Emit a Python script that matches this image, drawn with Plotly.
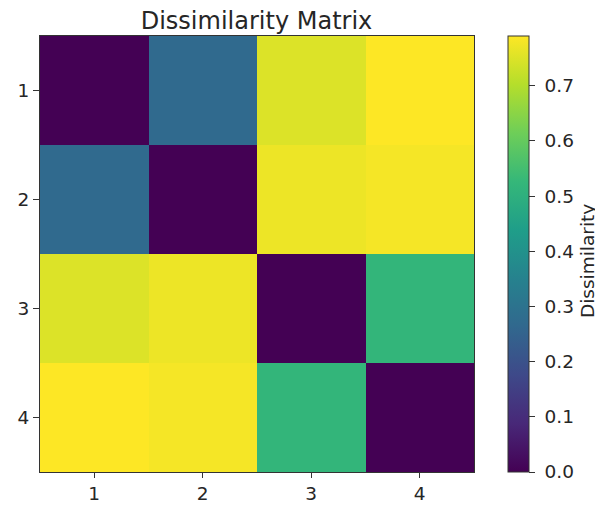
import plotly.graph_objects as go

labels = [1, 2, 3, 4]
values = [
    [0.00, 0.27, 0.75, 0.79],
    [0.27, 0.00, 0.77, 0.78],
    [0.75, 0.77, 0.00, 0.52],
    [0.79, 0.78, 0.52, 0.00],
]
cbar_ticks = [0.0, 0.1, 0.2, 0.3, 0.4, 0.5, 0.6, 0.7]

font = "DejaVu Sans, sans-serif"
tick_size = 18.5
fig = go.Figure(go.Heatmap(
    z=values, x=labels, y=labels,
    colorscale="Viridis", zmin=0, zmax=max(max(r) for r in values),
    colorbar=dict(
        x=1.078, xanchor="left", xref="paper", xpad=0, ypad=0,
        y=0.5, yanchor="middle", len=1.0, lenmode="fraction",
        thickness=21, outlinecolor="#333333", outlinewidth=1,
        ticks="outside", ticklen=6, tickcolor="#333333",
        tickvals=cbar_ticks, ticktext=["\u00a0" + f"{t:.1f}" for t in cbar_ticks],
        tickfont=dict(family=font, size=tick_size, color="#262626"),
    ),
))
fig.add_annotation(
    text="Dissimilarity", textangle=-90, showarrow=False,
    xref="paper", yref="paper", x=1.263, y=0.484,
    xanchor="center", yanchor="middle",
    font=dict(family=font, size=tick_size, color="#262626"),
)
fig.update_layout(
    width=595, height=502,
    margin=dict(l=32, r=129, t=28, b=38, autoexpand=False),
    paper_bgcolor="white", plot_bgcolor="white",
    title=dict(text="Dissimilarity Matrix", x=248.5 / 595, xanchor="center",
               y=1 - 13 / 502, yanchor="middle",
               font=dict(family=font, size=24, color="#262626")),
    font=dict(family=font, size=tick_size, color="#262626"),
)
fig.update_xaxes(tickvals=labels, ticks="outside", ticklen=5, tickcolor="#333333",
                 showline=True, linecolor="#333333", linewidth=1, mirror=True,
                 showgrid=False, zeroline=False, range=[0.5, 4.5], automargin=False)
fig.update_yaxes(tickvals=labels, ticks="outside", ticklen=6, tickcolor="#333333",
                 showline=True, linecolor="#333333", linewidth=1, mirror=True,
                 showgrid=False, zeroline=False, range=[4.5, 0.5], automargin=False)
fig.write_html("out.html")
